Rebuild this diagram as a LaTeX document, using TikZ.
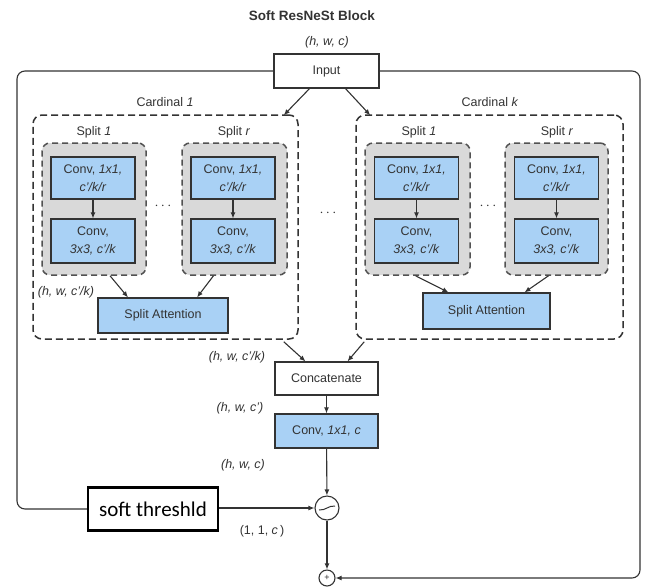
\documentclass[tikz,border=0pt]{standalone}
\usepackage{fontspec}
\setmainfont{Liberation Sans}
\newfontfamily\calib{Carlito}
\usetikzlibrary{arrows.meta,calc}
\definecolor{bluefill}{HTML}{A9D1F5}
\definecolor{grayfill}{HTML}{D9D9D9}
\definecolor{ink}{HTML}{333333}
\definecolor{txt}{HTML}{333333}
\begin{document}
\begin{tikzpicture}[x=1pt,y=-1pt,
  every node/.style={text=txt, font=\fontsize{12.5}{18}\selectfont, inner sep=0pt},
  arr/.style={draw=ink, line width=1.1pt, -{Latex[length=6pt,width=5pt]}},
  ln/.style={draw=ink, line width=1.1pt},
  plainbox/.style={draw=ink, line width=1.2pt, fill=white, rectangle, align=center},
  bluebox/.style={draw=ink, line width=1.2pt, fill=bluefill, rectangle, align=center, minimum width=84pt},
  graybox/.style={draw=ink!85, line width=1.5pt, fill=grayfill, dash pattern=on 6pt off 4pt, rounded corners=8pt, rectangle, minimum width=104pt, minimum height=132pt},
  cardbox/.style={draw=ink, line width=1.5pt, dash pattern=on 7pt off 4pt, rounded corners=9pt, rectangle, minimum height=224pt},
  lab/.style={font=\fontsize{12.5}{15}\selectfont\itshape},
]
\useasboundingbox (0,0) rectangle (647,587);

% title and input
\node[font=\fontsize{13.5}{16}\selectfont\bfseries] (title) at (312,16) {Soft ResNeSt Block};
\node[lab] (hwc0) at (327,42) {(h, w, c)};
\node[plainbox, minimum width=105pt, minimum height=34pt] (input) at (326.5,71) {Input};

% cardinal groups
\node[cardbox, minimum width=265pt] (card1) at (165.5,227) {};
\node[cardbox, minimum width=267pt] (cardk) at (489.5,227) {};
\node (c1lab) at (165,102) {Cardinal \textit{1}};
\node (cklab) at (490,102) {Cardinal \textit{k}};

% split boxes
\node[graybox] (g11) at (94,209) {};
\node[graybox, minimum width=105pt] (g1r) at (234.5,209) {};
\node[graybox, minimum width=105pt] (gk1) at (417.5,209) {};
\node[graybox, minimum width=103pt] (gkr) at (556.5,209) {};
\node (s11) at (94,132) {Split \textit{1}};
\node (s1r) at (234,132) {Split \textit{r}};
\node (sk1) at (419,132) {Split \textit{1}};
\node (skr) at (557,132) {Split \textit{r}};

% conv boxes
\foreach \n/\x in {a/93, b/233, c/416.5, d/556.5}{
  \node[bluebox, minimum height=42pt] (top\n) at (\x,178) {Conv, \textit{1x1,}\\ \textit{c'/k/r}};
  \node[bluebox, minimum height=44pt] (bot\n) at (\x,241) {Conv,\\ \textit{3x3, c'/k}};
  \draw[arr] (top\n) -- (bot\n);
}

% dots
\node[font=\fontsize{15}{18}\selectfont] (dots1) at (163,206) {$\cdots$};
\node[font=\fontsize{15}{18}\selectfont] (dots2) at (328,213) {$\cdots$};
\node[font=\fontsize{15}{18}\selectfont] (dotsk) at (488,206) {$\cdots$};

% split attention
\node[bluebox, minimum width=130pt, minimum height=35pt] (sa1) at (163,315.5) {Split Attention};
\node[bluebox, minimum width=127pt, minimum height=36pt] (sak) at (486.5,311) {Split Attention};
\node[lab] (hwck1) at (66,292) {(h, w, c'/k)};

\draw[arr] ([xshift=16pt]g11.south) -- ([xshift=-35pt]sa1.north);
\draw[arr] ([xshift=-21pt]g1r.south) -- ([xshift=34pt]sa1.north);
\draw[arr] ([xshift=-2pt]gk1.south) -- ([xshift=-38pt]sak.north);
\draw[arr] ([xshift=-8pt]gkr.south) -- ([xshift=38pt]sak.north);

% input to cardinals
\draw[arr] ([xshift=-17pt]input.south) -- ([xshift=-15pt,yshift=-1pt]card1.north east);
\draw[arr] ([xshift=19pt]input.south) -- ([xshift=15pt,yshift=-1pt]cardk.north west);

% concatenate and conv
\node[plainbox, minimum width=103pt, minimum height=33pt] (concat) at (326.5,378.5) {Concatenate};
\node[bluebox, minimum width=103pt, minimum height=34pt] (convc) at (326.5,431) {Conv, \textit{1x1, c}};
\node[lab] (hwck2) at (237,357) {(h, w, c'/k)};
\node[lab] (hwcp) at (240,408) {(h, w, c')};
\node[lab] (hwc1) at (243,465) {(h, w, c)};

\draw[arr] ([xshift=-15pt,yshift=-2pt]card1.south east) -- ([xshift=-21pt]concat.north);
\draw[arr] ([xshift=9pt,yshift=-2pt]cardk.south west) -- ([xshift=21pt]concat.north);
\draw[arr] (concat) -- (convc);

% threshold and combination
\node[circle, draw=ink, line width=1.1pt, fill=white, minimum size=24pt] (circ) at (327,508) {};
\draw[ink, line width=1pt] ($(circ.center)+(-8,2)$) .. controls ($(circ.center)+(-1,2.5)$) and ($(circ.center)+(1,-2.5)$) .. ($(circ.center)+(8,-2)$);
\node[circle, draw=ink, line width=1.1pt, fill=white, minimum size=16pt, font=\fontsize{9}{10}\selectfont] (plus) at (327,578) {+};
\node[draw=black, line width=2.2pt, fill=white, minimum width=130pt, minimum height=43pt, text=black, font=\calib\fontsize{21}{24}\selectfont] (soft) at (153,509) {soft threshld};
\node[font=\fontsize{12.5}{15}\selectfont] (one) at (262,531) {(1, 1, \textit{c}\,)};

\draw[arr] (convc) -- (circ);
\draw[arr] (soft.east |- circ.west) -- (circ.west);
\draw[arr] (circ) -- (plus);

% residual loops
\coordinate (lx) at (17,0);
\coordinate (rx) at (640,0);
\draw[ln, rounded corners=8pt] (input.west) -- (input.west -| lx) -- (soft.west -| lx) -- (soft.west);
\draw[arr, rounded corners=8pt] (input.east) -- (input.east -| rx) -- (plus.east -| rx) -- (plus.east);
\end{tikzpicture}
\end{document}
